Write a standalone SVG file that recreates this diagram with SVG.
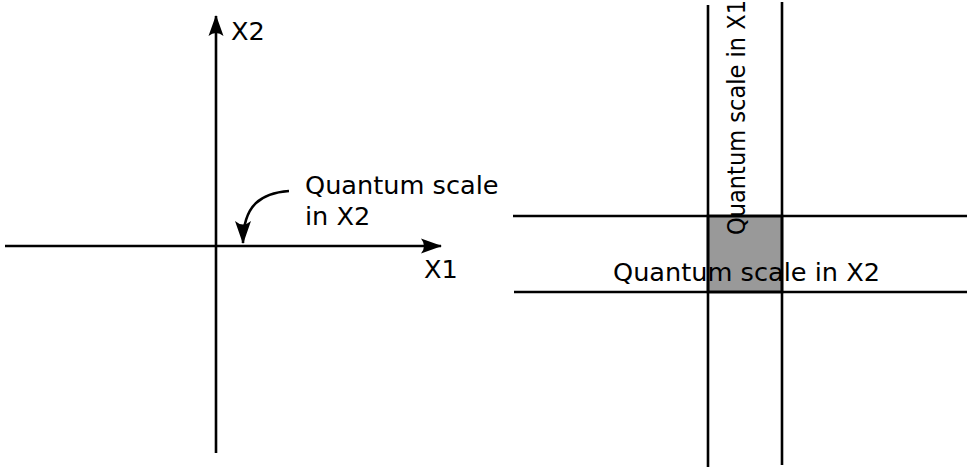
<svg xmlns="http://www.w3.org/2000/svg" width="967" height="472" viewBox="0 0 967 472">
<style>
.ln{stroke:#000;stroke-width:2.6;fill:none}
.t{font-family:"DejaVu Sans",sans-serif;font-size:25.6px;fill:#000}
</style>
<defs>
<marker id="ah" markerUnits="userSpaceOnUse" markerWidth="30" markerHeight="20" viewBox="-22 -10 24 20" refX="0" refY="0" orient="auto" overflow="visible">
<path d="M1,0 L-20,-7.5 Q-14,0 -20,7.5 Z" fill="#000"/>
</marker>
<marker id="ah2" markerUnits="userSpaceOnUse" markerWidth="30" markerHeight="20" viewBox="-24 -10 26 20" refX="0" refY="0" orient="auto" overflow="visible">
<path d="M1,0 L-22,-8 Q-15,0 -22,8 Z" fill="#000"/>
</marker>
</defs>
<rect width="967" height="472" fill="#fff"/>
<g id="left-axes">
<g id="axis-x2"><line class="ln" x1="216" y1="453" x2="216" y2="16" marker-end="url(#ah)"/><text class="t" x="231" y="40">X2</text></g>
<g id="axis-x1"><line class="ln" x1="5" y1="246" x2="441" y2="246" marker-end="url(#ah)"/><text class="t" x="424" y="278">X1</text></g>
<g id="label-quantum"><text class="t" x="305" y="194">Quantum scale</text><text class="t" x="305" y="225">in X2</text></g>
</g>
<g id="connectors">
<path class="ln" stroke-width="3.6" d="M289,191 C262,193 243,204 243,243" marker-end="url(#ah2)"/>
</g>
<g id="right-grid">
<rect id="cell" x="708" y="216" width="74" height="76" fill="#999" stroke="#000" stroke-width="2.6"/>
<text class="t" transform="translate(745,235) rotate(-90)" textLength="235" lengthAdjust="spacingAndGlyphs">Quantum scale in X1</text>
<text class="t" x="613" y="281">Quantum scale in X2</text>
<line class="ln" x1="708" y1="5" x2="708" y2="467"/>
<line class="ln" x1="782" y1="2" x2="782" y2="465"/>
<line class="ln" x1="513" y1="216" x2="967" y2="216"/>
<line class="ln" x1="514" y1="292" x2="967" y2="292"/>
</g>
</svg>
